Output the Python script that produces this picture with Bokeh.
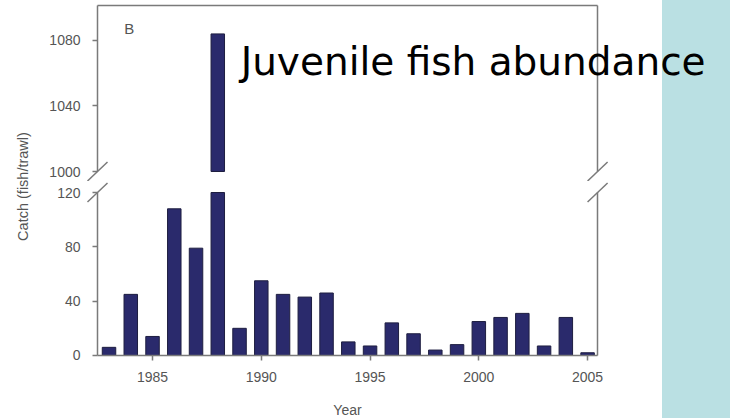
from math import pi

from bokeh.embed import file_html
from bokeh.layouts import column, row
from bokeh.models import (BooleanFilter, BoxAnnotation, CDSView,
                          ColumnDataSource, FixedTicker, Label, LinearAxis,
                          Range1d)
from bokeh.plotting import figure
from bokeh.resources import INLINE

# Juvenile catch per trawl, by survey year
years = list(range(1983, 2006))
catch = [6, 45, 14, 108, 79, 1084, 20, 55, 45, 43, 46, 10, 7, 24, 16, 4, 8,
         25, 28, 31, 7, 28, 2]

year_ticks = [1985, 1990, 1995, 2000, 2005]
lower_ticks = [0, 40, 80, 120]
upper_ticks = [1000, 1040, 1080]

# extent of the plotted box (data units) for each panel
x_lo, x_hi = 1982.47, 2005.46
lower_lo, lower_hi = 0, 120
upper_lo, upper_hi = 1000, 1101.4

# visible windows of each canvas (a little wider than the boxes)
X_VIEW = (1979.85, 2011.57)
UPPER_VIEW = (993.9, 1104.4)
LOWER_VIEW = (-46.4, 128.1)

AXIS = "#7a7a7a"
TEXT = "#555555"
FONT = "Liberation Sans"
BAR_FILL = "#2a2a6c"
BAR_LINE = "#1e1e40"
SLIDE = "#bae0e3"
BAR_WIDTH = 0.62
SLASH_DX, UPPER_DY, LOWER_DY = 0.46, 5.8, 7.0

src = ColumnDataSource(dict(year=years, catch=catch))
above_break = [c > lower_hi for c in catch]
below_break = [not b for b in above_break]


def spine(fixed, bounds, **kw):
    return LinearAxis(ticker=FixedTicker(ticks=[]), axis_line_color=AXIS,
                      axis_line_width=1.5, major_tick_line_color=None,
                      minor_tick_line_color=None, major_label_standoff=0,
                      major_tick_out=0, minor_tick_out=0,
                      fixed_location=fixed, bounds=bounds, **kw)


def value_axis(ticks, fixed, bounds, **kw):
    return LinearAxis(ticker=FixedTicker(ticks=ticks), axis_line_color=AXIS,
                      axis_line_width=1.5, major_tick_line_color=AXIS,
                      major_tick_line_width=1.5, major_tick_out=5,
                      major_tick_in=0, minor_tick_line_color=None,
                      major_label_text_font=FONT,
                      major_label_text_font_size="14px",
                      major_label_text_color=TEXT, fixed_location=fixed,
                      bounds=bounds, **kw)


def canvas(height, y_view):
    p = figure(width=690, height=height, x_range=Range1d(*X_VIEW),
               y_range=Range1d(*y_view), output_backend="svg",
               toolbar_location=None, x_axis_location=None,
               y_axis_location=None, min_border=0)
    p.outline_line_color = None
    p.grid.visible = False
    p.background_fill_alpha = 0
    p.border_fill_alpha = 0
    # slide strip along the right edge
    p.add_layout(BoxAnnotation(left=2008.45, right=2100, bottom=-1e5,
                               top=1e5, fill_color=SLIDE, fill_alpha=1.0,
                               line_color=None, level="underlay"))
    return p


def bars(p, top, bottom, flags):
    p.vbar(x="year", top=top, bottom=bottom, width=BAR_WIDTH, source=src,
           view=CDSView(filter=BooleanFilter(flags)), fill_color=BAR_FILL,
           line_color=BAR_LINE, line_width=1)


def slashes(p, y, dy):
    p.segment(x0=[x_lo - SLASH_DX, x_hi - SLASH_DX], y0=[y - dy, y - dy],
              x1=[x_lo + SLASH_DX, x_hi + SLASH_DX], y1=[y + dy, y + dy],
              line_color=AXIS, line_width=1.5)


# upper panel: the part of each bar above the break
top = canvas(181, UPPER_VIEW)
bars(top, "catch", upper_lo, above_break)
top.add_layout(value_axis(upper_ticks, x_lo, (upper_lo, upper_hi),
                          major_label_standoff=12), "left")
top.add_layout(spine(x_hi, (upper_lo, upper_hi)), "right")
top.add_layout(spine(upper_hi, (x_lo, x_hi)), "above")
slashes(top, upper_lo, UPPER_DY)
top.add_layout(Label(x=1983.7, y=1092.5, text="B", text_font=FONT,
                     text_font_size="15px", text_color=TEXT,
                     text_baseline="top", text_align="left"))
top.add_layout(Label(x=1989.05, y=1067.2, text="Juvenile fish abundance",
                     text_font="DejaVu Sans", text_font_size="39px",
                     text_color="black", text_baseline="alphabetic",
                     text_align="left"))

# lower panel: everything up to the break at 120
bottom = canvas(237, LOWER_VIEW)
bars(bottom, "catch", lower_lo, below_break)
bars(bottom, lower_hi, lower_lo, above_break)
bottom.add_layout(value_axis(lower_ticks, x_lo, (lower_lo, lower_hi),
                             major_label_standoff=12), "left")
bottom.add_layout(spine(x_hi, (lower_lo, lower_hi)), "right")
bottom.add_layout(value_axis(year_ticks, lower_lo, (x_lo, x_hi),
                             major_label_standoff=12,
                             axis_label="Year", axis_label_standoff=16,
                             axis_label_text_font=FONT,
                             axis_label_text_font_size="14px",
                             axis_label_text_font_style="normal",
                             axis_label_text_color=TEXT), "below")
slashes(bottom, lower_hi, LOWER_DY)

# shared y-axis title spanning both panels
ylab = figure(width=40, height=418, x_range=Range1d(0, 40),
              y_range=Range1d(418, 0), output_backend="svg",
              toolbar_location=None, x_axis_location=None,
              y_axis_location=None, min_border=0)
ylab.outline_line_color = None
ylab.grid.visible = False
ylab.background_fill_alpha = 0
ylab.border_fill_alpha = 0
ylab.add_layout(Label(x=22, y=186, text="Catch (fish/trawl)", angle=pi / 2,
                      text_font=FONT, text_font_size="14.5px",
                      text_color=TEXT, text_align="center",
                      text_baseline="middle"))

# page backdrop: white slide with the coloured strip at the right
layout = row(ylab, column(top, bottom), styles={
    "background": f"linear-gradient(to right, white 662px, {SLIDE} 662px)"})

with open("out.html", "w") as f:
    f.write(file_html(layout, INLINE))
